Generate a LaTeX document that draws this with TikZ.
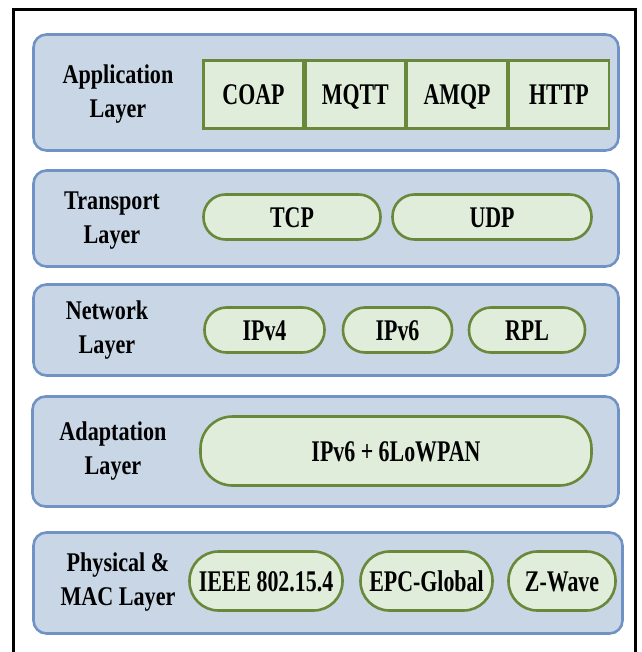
\documentclass[tikz,border=0pt]{standalone}
\usepackage{fontspec}
\setmainfont{Liberation Serif}
\newfontfamily\layerfont{Liberation Serif}[FakeStretch=0.82]
\newfontfamily\protofont{Liberation Serif}[FakeStretch=0.73]
\definecolor{layerfill}{HTML}{C8D6E6}
\definecolor{layerblue}{HTML}{7092C4}
\definecolor{protofill}{HTML}{E0EDDA}
\definecolor{protogreen}{HTML}{6A883A}
\begin{document}
\begin{tikzpicture}[x=1pt, y=-1pt,
    layerbox/.style={draw=layerblue, fill=layerfill, line width=2.6pt, rounded corners=13pt, inner sep=0pt},
    layertext/.style={align=center, inner sep=0pt, font=\layerfont\bfseries\fontsize{27}{34}\selectfont},
    appbox/.style={draw=protogreen, fill=protofill, line width=2.6pt, inner sep=0pt,
        text height=20pt, text depth=0pt,
        minimum width=100pt, minimum height=68pt, font=\protofont\bfseries\fontsize{30}{36}\selectfont},
    pill/.style={draw=protogreen, fill=protofill, line width=2.6pt, inner sep=0pt,
        text height=20pt, text depth=0pt,
        minimum height=45pt, rounded corners=22pt, font=\protofont\bfseries\fontsize{30}{36}\selectfont}]
    \useasboundingbox (0,0) rectangle (641,652);

    % Draw outer frame
    \draw[line width=3pt] (13,660) -- (13,10) -- (635,10) -- (635,660);

    % Draw layers
    \node[layerbox, minimum width=585pt, minimum height=116pt] (appl) at (326,92.5) {};
    \node[layerbox, minimum width=585pt, minimum height=96pt] (trans) at (326,218.5) {};
    \node[layerbox, minimum width=585pt, minimum height=91pt] (netw) at (326,330) {};
    \node[layerbox, minimum width=586pt, minimum height=110pt] (adapt) at (325.5,451.5) {};
    \node[layerbox, minimum width=589pt, minimum height=101pt] (phys) at (328,583) {};

    % Layer names
    \node[layertext] (appl-name) at (118,94) {Application\\Layer};
    \node[layertext] (trans-name) at (112,221) {Transport\\Layer};
    \node[layertext] (netw-name) at (107,330) {Network\\Layer};
    \node[layertext] (adapt-name) at (113,451) {Adaptation\\Layer};
    \node[layertext] (phys-name) at (118,582) {Physical \&\\MAC Layer};

    % Application protocols
    \foreach \proto [count=\i] in {COAP,MQTT,AMQP,HTTP} {
        \pgfmathsetmacro{\xc}{253.5+101.8*(\i-1)}
        \node[appbox] (appl-\i) at (\xc,94.5) {\proto};
    }

    % Transport protocols
    \node[pill, minimum width=177pt] (tcp) at (292,217) {TCP};
    \node[pill, minimum width=199pt] (udp) at (492,217) {UDP};

    % Network protocols
    \node[pill, minimum width=120pt] (ipv4) at (264.5,330) {IPv4};
    \node[pill, minimum width=109pt] (ipv6) at (397.5,330) {IPv6};
    \node[pill, minimum width=116pt] (rpl) at (527,330) {RPL};

    % Adaptation
    \node[pill, minimum width=391pt, minimum height=69pt, rounded corners=32pt] (lowpan) at (396,451) {IPv6 + 6LoWPAN};

    % Physical and MAC protocols
    \node[pill, minimum width=153pt, minimum height=59pt, rounded corners=29pt] (ieee) at (266,581) {IEEE 802.15.4};
    \node[pill, minimum width=132pt, minimum height=59pt, rounded corners=29pt] (epc) at (426.5,581) {EPC-Global};
    \node[pill, minimum width=107pt, minimum height=59pt, rounded corners=29pt] (zwave) at (562,581) {Z-Wave};
\end{tikzpicture}
\end{document}
